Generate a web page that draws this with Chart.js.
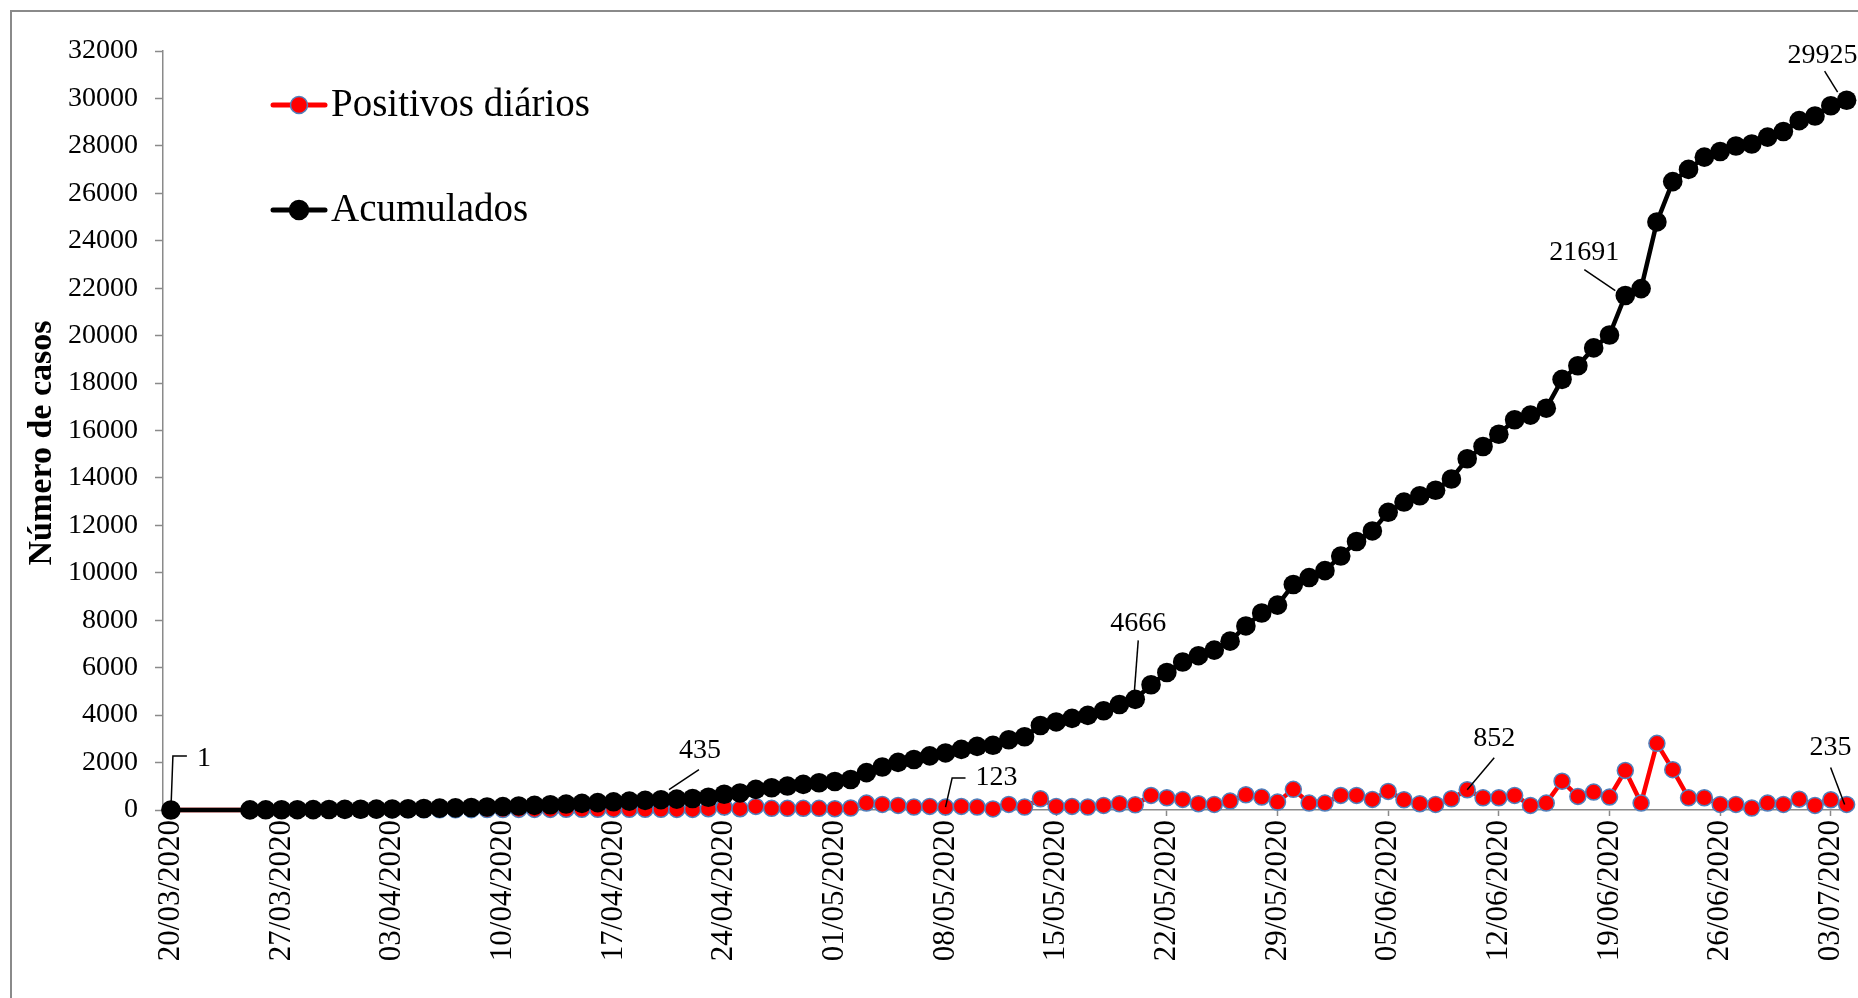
<!DOCTYPE html>
<html lang="pt">
<head>
    <meta charset="UTF-8">
    <script src="https://cdn.jsdelivr.net/npm/chart.js"></script>
    <title>Número de casos</title>
    <style>
        html, body { margin: 0; padding: 0; background: #fff; overflow: hidden; }
    </style>
</head>
<body>

    <canvas id="myChart" width="1858" height="998"></canvas>

    <script>
        // day 0 = 20/03/2020, one entry per day up to 04/07/2020
        const tickDays = [0, 7, 14, 21, 28, 35, 42, 49, 56, 63, 70, 77, 84, 91, 98, 105];
        const tickLabels = ['20/03/2020', '27/03/2020', '03/04/2020', '10/04/2020', '17/04/2020',
            '24/04/2020', '01/05/2020', '08/05/2020', '15/05/2020', '22/05/2020', '29/05/2020',
            '05/06/2020', '12/06/2020', '19/06/2020', '26/06/2020', '03/07/2020'];

        const positivos = [1, null, null, null, null, 4, 3, 2, 3, 4,
            3, 5, 5, 6, 9, 10, 10, 13, 12, 15,
            20, 20, 25, 25, 25, 30, 30, 30, 35, 30,
            30, 30, 25, 25, 54, 124, 54, 152, 70, 70,
            70, 70, 54, 82, 292, 236, 194, 124, 152, 123,
            152, 124, 45, 236, 124, 474, 152, 152, 124, 194,
            264, 219, 614, 516, 446, 264, 236, 376, 642, 544,
            334, 870, 292, 292, 614, 614, 446, 785, 432, 264,
            236, 474, 852, 516, 516, 614, 194, 292, 1216, 572,
            754, 544, 1664, 292, 2810, 1700, 516, 516, 236, 236,
            82, 292, 236, 457, 194, 432, 235];

        const acumulados = [1, null, null, null, null, 5, 8, 10, 13, 17,
            20, 25, 30, 36, 45, 55, 65, 78, 90, 105,
            125, 145, 170, 195, 220, 250, 280, 310, 345, 375,
            405, 435, 460, 485, 539, 663, 717, 869, 939, 1009,
            1079, 1149, 1203, 1285, 1577, 1813, 2007, 2131, 2283, 2406,
            2558, 2682, 2727, 2963, 3087, 3561, 3713, 3865, 3989, 4183,
            4447, 4666, 5280, 5796, 6242, 6506, 6742, 7118, 7760, 8304,
            8638, 9508, 9800, 10092, 10706, 11320, 11766, 12551, 12983, 13247,
            13483, 13957, 14809, 15325, 15841, 16455, 16649, 16941, 18157, 18729,
            19483, 20027, 21691, 21983, 24793, 26493, 27009, 27525, 27761, 27997,
            28079, 28371, 28607, 29064, 29258, 29690, 29925];

        // labelled points: which series, which day
        const labelled = [
            { serie: 'acumulados', day: 0 },
            { serie: 'acumulados', day: 31 },
            { serie: 'acumulados', day: 61 },
            { serie: 'acumulados', day: 92 },
            { serie: 'acumulados', day: 106 },
            { serie: 'positivos', day: 49 },
            { serie: 'positivos', day: 82 },
            { serie: 'positivos', day: 106 },
        ];

        const series = { positivos: positivos, acumulados: acumulados };
        const toPoints = arr => arr.map((v, i) => ({ x: i, y: v }));

        // label offsets from the point, and leader line (px)
        const calloutStyle = {
            'acumulados:0':   { tx: 26, ty: -51, align: 'left', line: [[0, 0], [2, -54], [16, -54]] },
            'acumulados:31':  { tx: 39, ty: -49, align: 'center', line: [[8, -10], [38, -30]] },
            'acumulados:61':  { tx: 3, ty: -76, align: 'center', line: [[-1, -6], [3, -59]] },
            'acumulados:92':  { tx: -41, ty: -43, align: 'center', line: [[-41, -26], [-10, -5]] },
            'acumulados:106': { tx: -24, ty: -45, align: 'center', line: [[-22, -29], [-9, -8]] },
            'positivos:49':   { tx: 30, ty: -29, align: 'left', line: [[0, 0], [6.6, -29], [20, -29]] },
            'positivos:82':   { tx: 27, ty: -51, align: 'center', line: [[0, 0], [27, -32]] },
            'positivos:106':  { tx: -16, ty: -57, align: 'center', line: [[-16, -37], [-2, 0]] },
        };

        const extras = {
            id: 'extras',
            afterDraw(chart) {
                const ctx = chart.ctx;
                const xs = chart.scales.x, ys = chart.scales.y;
                ctx.save();

                // outer frame
                ctx.strokeStyle = '#8a8a8a';
                ctx.lineWidth = 2;
                ctx.beginPath();
                ctx.moveTo(11, 998);
                ctx.lineTo(11, 11);
                ctx.lineTo(1858, 11);
                ctx.stroke();

                // y axis title, a little below the axis centre as in the original
                ctx.save();
                ctx.translate(42, 443);
                ctx.rotate(-Math.PI / 2);
                ctx.font = 'bold 34px "Liberation Serif"';
                ctx.fillStyle = '#000';
                ctx.textAlign = 'center';
                ctx.textBaseline = 'middle';
                ctx.fillText('Número de casos', 0, 0);
                ctx.restore();

                // legend
                const legend = [
                    { text: 'Positivos diários', y: 105, line: '#ff0000', fill: '#ff0000', border: '#4f81bd', r: 8.5 },
                    { text: 'Acumulados', y: 210, line: '#000000', fill: '#000000', border: '#000000', r: 9.5 },
                ];
                legend.forEach(l => {
                    ctx.strokeStyle = l.line;
                    ctx.lineWidth = 5;
                    ctx.lineCap = 'round';
                    ctx.beginPath();
                    ctx.moveTo(273, l.y);
                    ctx.lineTo(325, l.y);
                    ctx.stroke();
                    ctx.beginPath();
                    ctx.arc(299, l.y, l.r, 0, Math.PI * 2);
                    ctx.fillStyle = l.fill;
                    ctx.fill();
                    ctx.lineWidth = 1.5;
                    ctx.strokeStyle = l.border;
                    ctx.stroke();
                    ctx.fillStyle = '#000';
                    ctx.font = '39px "Liberation Serif"';
                    ctx.textAlign = 'left';
                    ctx.textBaseline = 'middle';
                    ctx.fillText(l.text, 331, l.y + 1);
                });

                // data callouts
                ctx.lineCap = 'butt';
                ctx.font = '28px "Liberation Serif"';
                ctx.textBaseline = 'middle';
                labelled.forEach(c => {
                    const v = series[c.serie][c.day];
                    const px = xs.getPixelForValue(c.day);
                    const py = ys.getPixelForValue(v);
                    const st = calloutStyle[c.serie + ':' + c.day];
                    ctx.strokeStyle = '#000';
                    ctx.lineWidth = 1.5;
                    ctx.beginPath();
                    st.line.forEach((p, k) => {
                        if (k === 0) ctx.moveTo(px + p[0], py + p[1]);
                        else ctx.lineTo(px + p[0], py + p[1]);
                    });
                    ctx.stroke();
                    ctx.fillStyle = '#000';
                    ctx.textAlign = st.align;
                    ctx.fillText(String(v), px + st.tx, py + st.ty);
                });

                ctx.restore();
            }
        };

        Chart.defaults.font.family = '"Liberation Serif", serif';
        Chart.defaults.color = '#000';

        new Chart(document.getElementById('myChart'), {
            type: 'line',
            data: {
                datasets: [{
                    label: 'Positivos diários',
                    data: toPoints(positivos),
                    borderColor: '#ff0000',
                    borderWidth: 4.5,
                    pointRadius: 8,
                    pointBackgroundColor: '#ff0000',
                    pointBorderColor: '#4f81bd',
                    pointBorderWidth: 1.5,
                    spanGaps: true,
                    order: 2,
                    clip: false,
                }, {
                    label: 'Acumulados',
                    data: toPoints(acumulados),
                    borderColor: '#000000',
                    borderWidth: 4.5,
                    pointRadius: 9.8,
                    pointBackgroundColor: '#000000',
                    pointBorderColor: '#000000',
                    pointBorderWidth: 0,
                    spanGaps: true,
                    order: 1,
                    clip: false,
                }],
            },
            options: {
                responsive: false,
                animation: false,
                layout: { padding: { left: 22, top: 51, right: 0, bottom: 0 } },
                plugins: { legend: { display: false }, tooltip: { enabled: false } },
                scales: {
                    x: {
                        type: 'linear',
                        min: -0.5,
                        max: 106.1,
                        afterBuildTicks: s => { s.ticks = tickDays.map(d => ({ value: d })); },
                        afterFit: s => { s.height = 188; s.paddingLeft = 0; s.paddingRight = 0; },
                        ticks: {
                            autoSkip: false,
                            minRotation: 90,
                            maxRotation: 90,
                            padding: 4,
                            font: { size: 31 },
                            callback: (v, i) => tickLabels[i],
                        },
                        grid: { drawOnChartArea: false, tickLength: 6, tickColor: '#8a8a8a', tickWidth: 1.5 },
                        border: { color: '#8a8a8a', width: 1.5 },
                    },
                    y: {
                        min: 0,
                        max: 32000,
                        afterFit: s => { s.width = 141; },
                        ticks: { stepSize: 2000, padding: 17, font: { size: 28 }, callback: v => String(v) },
                        grid: { drawOnChartArea: false, tickLength: 8, tickColor: '#8a8a8a', tickWidth: 1.5 },
                        border: { color: '#8a8a8a', width: 1.5 },
                    },
                },
            },
            plugins: [extras],
        });
    </script>

</body>
</html>
